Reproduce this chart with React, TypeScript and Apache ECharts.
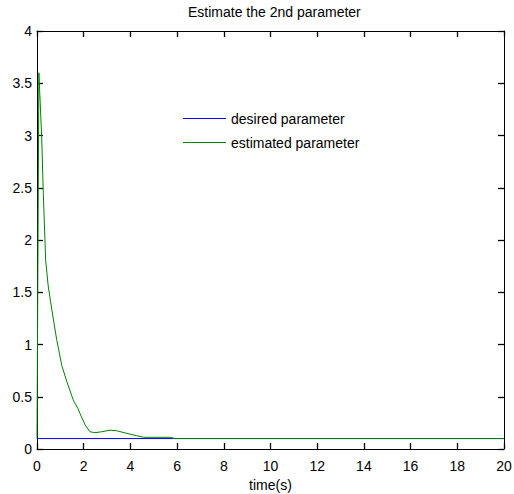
import React, { useEffect, useRef } from "react";
import * as echarts from "echarts";

const timeValues = [0, 0.08, 0.2, 0.27, 0.37, 0.48, 0.63, 0.84, 1.06, 1.27, 1.55, 1.77, 1.84, 2.06, 2.27, 2.48, 2.77, 3.13, 3.41, 3.84, 4.27, 4.56, 5.7, 5.9, 20];
const estimatedValues = [0.1, 3.6, 2.99, 2.45, 1.81, 1.56, 1.34, 1.05, 0.8, 0.65, 0.47, 0.38, 0.34, 0.23, 0.165, 0.156, 0.165, 0.18, 0.175, 0.15, 0.127, 0.112, 0.112, 0.1, 0.1];
const desiredTimes = [0, 20];
const desiredValues = [0.1, 0.1];

const FONT = "'Liberation Sans', Arial, sans-serif";

export default function App() {
  const ref = useRef<HTMLDivElement>(null);
  useEffect(() => {
    if (!ref.current) return;
    const chart = echarts.init(ref.current, null, { renderer: "svg" });
    const tickStyle = { show: true, inside: true, length: 6, lineStyle: { color: "#000", width: 1.3 } };
    const lineStyle = { show: true, onZero: false, lineStyle: { color: "#000", width: 1 } };
    const label = { color: "#000", fontSize: 14, fontFamily: FONT };
    chart.setOption({
      animation: false,
      backgroundColor: "#fff",
      title: {
        text: "Estimate the 2nd parameter",
        left: 183,
        top: 0,
        textStyle: { color: "#000", fontSize: 14, fontWeight: "normal", fontFamily: FONT },
      },
      legend: {
        left: 183,
        top: 111.5,
        padding: 0,
        orient: "vertical",
        icon: "rect",
        itemWidth: 43,
        itemHeight: 1,
        itemGap: 10,
        textStyle: { color: "#000", fontSize: 14, fontFamily: FONT },
        data: ["desired parameter", "estimated parameter"],
      },
      grid: { left: 37, right: 10, top: 31, bottom: 45, outerBoundsMode: "none", containLabel: false },
      xAxis: [
        {
          type: "value",
          min: 0,
          max: 20,
          interval: 2,
          name: "time(s)",
          nameLocation: "middle",
          nameGap: 29,
          nameMoveOverlap: false,
          nameTextStyle: { color: "#000", fontSize: 14, fontFamily: FONT },
          axisLine: lineStyle,
          axisTick: tickStyle,
          axisLabel: { ...label, margin: 10 },
          splitLine: { show: false },
        },
        {
          type: "value",
          position: "top",
          min: 0,
          max: 20,
          interval: 2,
          axisLine: lineStyle,
          axisTick: tickStyle,
          axisLabel: { show: false },
          splitLine: { show: false },
        },
      ],
      yAxis: [
        {
          type: "value",
          min: 0,
          max: 4,
          interval: 0.5,
          axisLine: lineStyle,
          axisTick: tickStyle,
          axisLabel: { ...label, margin: 5 },
          splitLine: { show: false },
        },
        {
          type: "value",
          position: "right",
          min: 0,
          max: 4,
          interval: 0.5,
          axisLine: lineStyle,
          axisTick: tickStyle,
          axisLabel: { show: false },
          splitLine: { show: false },
        },
      ],
      series: [
        {
          name: "desired parameter",
          type: "line",
          symbol: "none",
          color: "#0000ff",
          lineStyle: { color: "#0000ff", width: 1 },
          data: desiredTimes.map((t, i) => [t, desiredValues[i]]),
        },
        {
          name: "estimated parameter",
          type: "line",
          symbol: "none",
          color: "#008000",
          lineStyle: { color: "#008000", width: 1 },
          data: timeValues.map((t, i) => [t, estimatedValues[i]]),
        },
      ],
    });
    return () => chart.dispose();
  }, []);
  return (
    <div
      ref={ref}
      style={{ position: "fixed", left: 0, top: 0, width: 514, height: 494, background: "#fff" }}
    />
  );
}
